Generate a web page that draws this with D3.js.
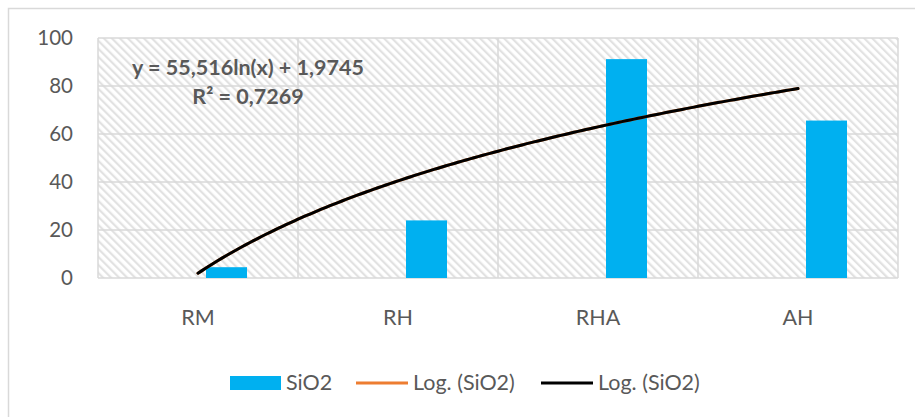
<!DOCTYPE html>
<html>
<head>
<meta charset="utf-8">
<script src="https://cdn.jsdelivr.net/npm/d3@7/dist/d3.min.js"></script>
<style>
  html, body { margin: 0; padding: 0; background: #fff; }
  svg { display: block; }
  text { font-family: Lato, "Open Sans", sans-serif; fill: #595959; }
</style>
</head>
<body>
<svg id="chart" width="915" height="417"></svg>
<script>
// Silica content per sample
const categories = ["RM", "RH", "RHA", "AH"];
const sio2Values = [4.5, 24.0, 91.2, 65.6];
const yTicks = [0, 20, 40, 60, 80, 100];

// Logarithmic trend: y = a·ln(x) + b
const trendCoef = [55.516, 1.9745];
const trendR2 = 0.7269;
const trendLabel = ["y = 55,516ln(x) + 1,9745", "R² = 0,7269"];
const legendLabels = ["SiO2", "Log. (SiO2)", "Log. (SiO2)"];

const svg = d3.select("#chart");
const plot = { left: 98, right: 898, top: 38, bottom: 278 };

// Diagonal hatch fill for the plot area
const defs = svg.append("defs");
const pat = defs.append("pattern")
  .attr("id", "hatch")
  .attr("patternUnits", "userSpaceOnUse")
  .attr("width", 5.66).attr("height", 5.66)
  .attr("patternTransform", "rotate(-45)");
pat.append("rect").attr("width", 5.66).attr("height", 5.66).attr("fill", "#ffffff");
pat.append("rect").attr("width", 2.2).attr("height", 5.66).attr("fill", "#e2e2e2");

// Outer chart frame
svg.append("rect")
  .attr("x", 8.5).attr("y", 8.5).attr("width", 940).attr("height", 440)
  .attr("fill", "none").attr("stroke", "#d9d9d9").attr("stroke-width", 1.5);

const x = d3.scaleBand().domain(categories).range([plot.left, plot.right]).padding(0);
const inner = d3.scaleBand().domain(["_", "SiO2"]).range([67, 149]).padding(0);
const y = d3.scaleLinear().domain([0, 100]).range([plot.bottom, plot.top]);

svg.append("rect")
  .attr("x", plot.left).attr("y", plot.top)
  .attr("width", plot.right - plot.left).attr("height", plot.bottom - plot.top)
  .attr("fill", "url(#hatch)");

// Gridlines
const grid = svg.append("g").attr("stroke", "#d9d9d9").attr("stroke-width", 1.5);
grid.selectAll("line.h").data(yTicks).join("line")
  .attr("x1", plot.left).attr("x2", plot.right)
  .attr("y1", d => y(d)).attr("y2", d => y(d));
const bounds = categories.map(c => x(c)).concat([x(categories[categories.length - 1]) + x.bandwidth()]);
grid.selectAll("line.v").data(bounds).join("line")
  .attr("y1", plot.top).attr("y2", plot.bottom)
  .attr("x1", d => d).attr("x2", d => d);

// Y axis labels
svg.append("g")
  .attr("transform", `translate(${plot.left},0)`)
  .call(d3.axisLeft(y).tickValues(yTicks).tickSize(0).tickPadding(25))
  .call(g => g.select(".domain").remove())
  .call(g => g.selectAll("text").attr("font-size", 20.5).attr("fill", "#595959")
    .style("font-family", "Lato, sans-serif"));

// X axis labels
svg.append("g")
  .attr("transform", `translate(0,${plot.bottom})`)
  .call(d3.axisBottom(x).tickSize(0).tickPadding(32))
  .call(g => g.select(".domain").remove())
  .call(g => g.selectAll("text").attr("font-size", 21.5).attr("fill", "#595959")
    .style("font-family", "Lato, sans-serif"));

// Bars
svg.append("g").selectAll("rect").data(sio2Values).join("rect")
  .attr("x", (d, i) => x(categories[i]) + inner("SiO2"))
  .attr("width", inner.bandwidth())
  .attr("y", d => y(d))
  .attr("height", d => y(0) - y(d))
  .attr("fill", "#00b0f0");

// Trendline, drawn across category centres (x = 1..n)
const xt = d3.scaleLinear().domain([1, categories.length])
  .range([x(categories[0]) + x.bandwidth() / 2, x(categories[categories.length - 1]) + x.bandwidth() / 2]);
const pts = d3.range(1, categories.length + 0.0001, 0.02).map(t => [t, trendCoef[0] * Math.log(t) + trendCoef[1]]);
const line = d3.line().x(d => xt(d[0])).y(d => y(d[1])).curve(d3.curveLinear);
svg.append("path").datum(pts).attr("d", line)
  .attr("fill", "none").attr("stroke", "#ed7d31").attr("stroke-width", 3).attr("stroke-linecap", "round");
svg.append("path").datum(pts).attr("d", line)
  .attr("fill", "none").attr("stroke", "#000").attr("stroke-width", 3).attr("stroke-linecap", "round");

// Trendline equation
const eq = svg.append("g").attr("font-size", 21.5).attr("font-weight", "bold").attr("text-anchor", "middle");
eq.selectAll("text").data(trendLabel).join("text")
  .attr("x", 248).attr("y", (d, i) => 75 + i * 29)
  .text(d => d);

// Legend
const lg = svg.append("g").attr("font-size", 21.5);
lg.append("rect").attr("x", 230).attr("y", 376).attr("width", 51).attr("height", 14).attr("fill", "#00b0f0");
lg.append("text").attr("x", 286).attr("y", 390).text(legendLabels[0]);
lg.append("line").attr("x1", 356).attr("x2", 408).attr("y1", 383).attr("y2", 383)
  .attr("stroke", "#ed7d31").attr("stroke-width", 3);
lg.append("text").attr("x", 413).attr("y", 390).text(legendLabels[1]);
lg.append("line").attr("x1", 541).attr("x2", 593).attr("y1", 383).attr("y2", 383)
  .attr("stroke", "#000").attr("stroke-width", 3);
lg.append("text").attr("x", 598).attr("y", 390).text(legendLabels[2]);
</script>
</body>
</html>
